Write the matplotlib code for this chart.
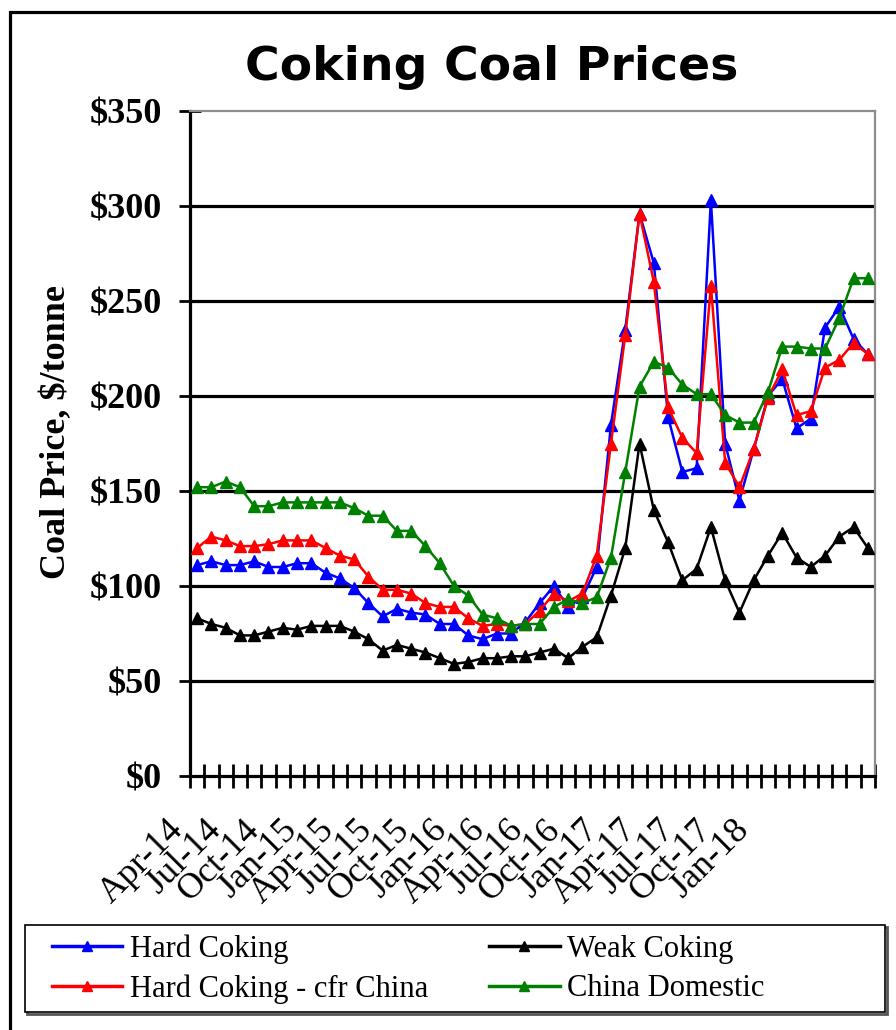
import numpy as np
import matplotlib
matplotlib.use("Agg")
import matplotlib.pyplot as plt
from matplotlib.patches import Rectangle

# monthly series, Apr-14 .. Mar-18 (48 months), $/tonne
hard_coking = [111, 113, 111, 111, 113, 110, 110, 112, 112, 107, 104, 99,
               91, 84, 88, 86, 85, 80, 80, 74, 72, 75, 75, 81,
               91, 100, 89, 94, 110, 185, 235, 296, 270, 189, 160, 162,
               303, 175, 145, 172, 200, 209, 183, 188, 236, 247, 230, 222]
weak_coking = [83, 80, 78, 74, 74, 76, 78, 77, 79, 79, 79, 76,
               72, 66, 69, 67, 65, 62, 59, 60, 62, 62, 63, 63,
               65, 67, 62, 68, 73, 95, 120, 175, 140, 123, 103, 109,
               131, 103, 86, 103, 116, 128, 115, 110, 116, 126, 131, 120]
cfr_china = [120, 126, 124, 121, 121, 122, 124, 124, 124, 120, 116, 114,
             105, 98, 98, 96, 91, 89, 89, 83, 79, 80, 79, 80,
             87, 96, 92, 96, 116, 175, 232, 296, 260, 194, 178, 170,
             258, 165, 152, 172, 199, 214, 190, 192, 215, 219, 228, 222]
china_domestic = [152, 152, 155, 152, 142, 142, 144, 144, 144, 144, 144, 141,
                  137, 137, 129, 129, 121, 112, 100, 95, 85, 83, 79, 80,
                  80, 89, 93, 91, 94, 115, 160, 205, 218, 215, 206, 201,
                  201, 190, 186, 186, 202, 226, 226, 225, 225, 241, 262, 262]

month_labels = ["Apr-14", "Jul-14", "Oct-14", "Jan-15", "Apr-15", "Jul-15",
                "Oct-15", "Jan-16", "Apr-16", "Jul-16", "Oct-16", "Jan-17",
                "Apr-17", "Jul-17", "Oct-17", "Jan-18"]
y_ticks = [0, 50, 100, 150, 200, 250, 300, 350]

SERIF = ["Liberation Serif", "DejaVu Serif"]

fig = plt.figure(figsize=(8.96, 10.30), dpi=100)
ax = fig.add_axes([190 / 896, 1 - 776 / 1030, 685 / 896, 665 / 1030])

months = np.arange(len(hard_coking))
series = [("Hard Coking", hard_coking, "#0000ff"),
          ("Weak Coking", weak_coking, "#000000"),
          ("Hard Coking - cfr China", cfr_china, "#ff0000"),
          ("China Domestic", china_domestic, "#008000")]
handles = {}
for name, vals, col in series:
    ln, = ax.plot(months, vals, color=col, lw=1.8, marker="^", ms=9,
                  mec=col, mfc=col, mew=1, zorder=3, clip_on=False)
    handles[name] = ln

ax.set_xlim(-0.5, len(hard_coking) - 0.5)
ax.set_ylim(0, 350)

for v in y_ticks[1:-1]:
    ax.axhline(v, color="black", lw=2.3, zorder=1)

ax.set_yticks(y_ticks)
ax.set_yticklabels(["$%d" % v for v in y_ticks], family=SERIF,
                   fontweight="bold", fontsize=26)
ax.tick_params(axis="y", direction="inout", length=16, width=2, pad=12)
ax.set_xticks(np.arange(-0.5, len(hard_coking), 1))
ax.set_xticklabels([])
ax.tick_params(axis="x", direction="inout", length=17, width=2)

for side in ["left", "bottom"]:
    ax.spines[side].set_linewidth(2.3)
    ax.spines[side].set_color("black")
for side in ["top", "right"]:
    ax.spines[side].set_linewidth(1.6)
    ax.spines[side].set_color("#8c8c8c")

# category labels, squeezed the way the original sheet drew them
lab_pos = -1.3 + 2.642 * np.arange(len(month_labels))
for p, lab in zip(lab_pos, month_labels):
    ax.text(p, -0.074, lab, transform=ax.get_xaxis_transform(), rotation=45,
            rotation_mode="anchor", ha="right", va="center", fontsize=26,
            family=SERIF, clip_on=False)

fig.text(57 / 896, 1 - 432 / 1030, "Coal Price, $/tonne", rotation=90,
         ha="center", va="center", fontsize=26, fontweight="bold", family=SERIF)

fig.text(492 / 896, 1 - 68 / 1030, "Coking Coal Prices", ha="center",
         va="center", fontsize=34, fontweight="bold", family="DejaVu Sans")

# outer frame of the chart object
fig.add_artist(Rectangle((10 / 896, -0.2), 1.5, 1.2 - 12 / 1030,
                         transform=fig.transFigure, fill=False,
                         lw=2.3, ec="black"))
# legend box
fig.add_artist(Rectangle((27 / 896, 1 - 1014 / 1030), 860 / 896, 87 / 1030,
                         transform=fig.transFigure, fill=False, lw=2,
                         ec="#555555"))
fig.add_artist(Rectangle((25 / 896, 1 - 1012 / 1030), 860 / 896, 87 / 1030,
                         transform=fig.transFigure, fill=True, fc="white",
                         lw=1.2, ec="black"))

order = ["Hard Coking", "Hard Coking - cfr China", "Weak Coking",
         "China Domestic"]
leg = fig.legend([handles[n] for n in order], order, loc="center left",
                 bbox_to_anchor=(52 / 896, 1 - 969 / 1030), ncol=2,
                 frameon=False, borderpad=0, borderaxespad=0,
                 handlelength=2.3, handletextpad=0.25, columnspacing=2.0,
                 labelspacing=0.35, markerscale=0.8,
                 prop={"family": SERIF, "size": 22})
for h in leg.legend_handles:
    h.set_linewidth(2.5)

fig.savefig("out.png", dpi=100)
